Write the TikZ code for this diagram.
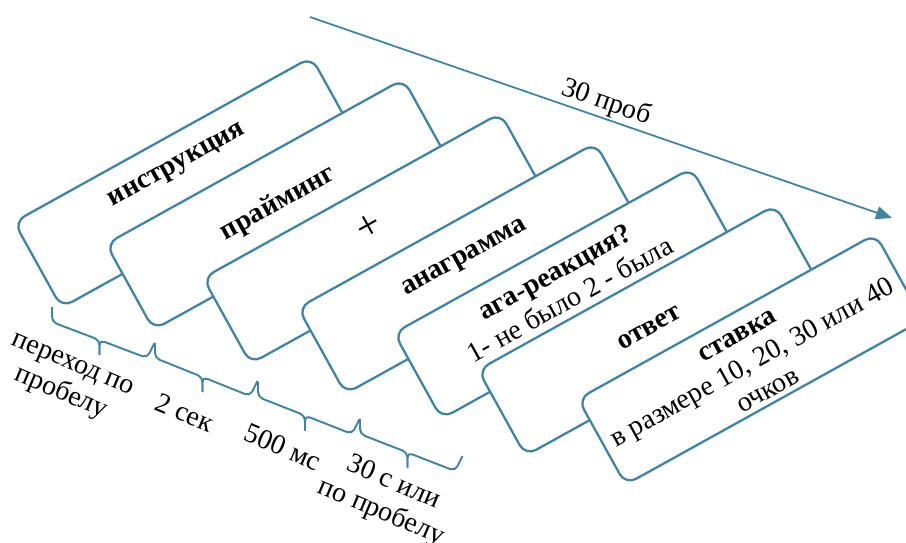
\documentclass[tikz,border=0pt]{standalone}
\usepackage{fontspec}
\setmainfont{Liberation Serif}
\usetikzlibrary{calc,arrows.meta}
\definecolor{framecol}{RGB}{66,131,160}
\tikzset{
  card/.style={draw=framecol, line width=1.3pt, fill=white, rounded corners=0.24cm,
    rotate=29, minimum width=6.8cm, minimum height=1.96cm},
  cardtext/.style={rotate=29, align=center, font=\fontsize{16}{18}\selectfont},
  bracket/.style={draw=framecol, line width=1.1pt, rounded corners=0.1cm},
  timelabel/.style={rotate=-23, align=center, font=\fontsize{16}{18}\selectfont}
}
\begin{document}
\begin{tikzpicture}
        \useasboundingbox (0,0) rectangle (18.12,10.84);

        % Arrow over all the trials
        \coordinate (S) at (6.2,10.5);
        \coordinate (E) at (17.84,6.48);
        \draw[framecol, line width=1pt, -{Triangle[length=0.32cm,width=0.26cm]}] (S) -- node[midway, above, sloped, inner sep=1pt, black, font=\fontsize{16}{18}\selectfont] (trials) {30 проб} (E);

        % Cards, one after the other
        \node[card] (c1) at (3.73,7.192) {};
        \node[cardtext] (t1) at ($(c1.center)!0.36!(c1.north)$) {\textbf{инструкция}};
        \node[card] (c2) at (5.57,6.752) {};
        \node[cardtext] (t2) at ($(c2.center)!0.02!(c2.north)$) {\textbf{прайминг}};
        \node[card] (c3) at (7.51,6.072) {};
        \node[cardtext, font=\fontsize{24}{26}\selectfont] (t3) at ($(c3.center)!0.26!(c3.north)$) {+};
        \node[card] (c4) at (9.41,5.472) {};
        \node[cardtext] (t4) at ($(c4.center)!0.22!(c4.north)$) {\textbf{анаграмма}};
        \node[card] (c5) at (11.33,4.972) {};
        \node[cardtext] (t5) at ($(c5.center)!0.18!(c5.north)$) {\textbf{ага-реакция?}\\1- не было 2 - была};
        \node[card] (c6) at (13.01,4.232) {};
        \node[cardtext] (t6) at ($(c6.center)!0.05!(c6.north)$) {\textbf{ответ}};
        \node[card] (c7) at (15.01,3.652) {};
        \node[cardtext] (t7) at ($(c7.center)!-0.1!(c7.north)$) {\textbf{ставка}\\в размере 10, 20, 30 или 40\\очков};

        % Brackets under the first cards
        \coordinate (A1) at (1.04,4.40); \coordinate (B1) at (2.94,3.68);
        \coordinate (A2) at (3.10,3.68); \coordinate (B2) at (5.00,2.92);
        \coordinate (A3) at (5.16,2.90); \coordinate (B3) at (7.04,2.16);
        \coordinate (A4) at (7.20,2.16); \coordinate (B4) at (9.10,1.42);

        \draw[bracket] ($(A1)+(0,0.3)$) -- (A1) -- ($(A1)!0.5!(B1)$) coordinate (M1) -- ++(0,-0.3) coordinate (P1);
        \draw[bracket] (P1) -- (M1) -- (B1) -- ++(0.15,0.3);
        \draw[bracket] ($(A2)+(0,0.3)$) -- (A2) -- ($(A2)!0.5!(B2)$) coordinate (M2) -- ++(0,-0.3) coordinate (P2);
        \draw[bracket] (P2) -- (M2) -- (B2) -- ++(0.15,0.3);
        \draw[bracket] ($(A3)+(0,0.3)$) -- (A3) -- ($(A3)!0.5!(B3)$) coordinate (M3) -- ++(0,-0.3) coordinate (P3);
        \draw[bracket] (P3) -- (M3) -- (B3) -- ++(0.15,0.3);
        \draw[bracket] ($(A4)+(0,0.3)$) -- (A4) -- ($(A4)!0.5!(B4)$) coordinate (M4) -- ++(0,-0.3) coordinate (P4);
        \draw[bracket] (P4) -- (M4) -- (B4) -- ++(0.15,0.3);

        % Durations
        \node[timelabel] (d1) at (1.32,3.22) {переход по\\пробелу};
        \node[timelabel] (d2) at (3.70,2.58) {2 сек};
        \node[timelabel] (d3) at (5.66,1.90) {500 мс};
        \node[timelabel] (d4) at (7.74,0.88) {30 с или\\по пробелу};
\end{tikzpicture}
\end{document}
